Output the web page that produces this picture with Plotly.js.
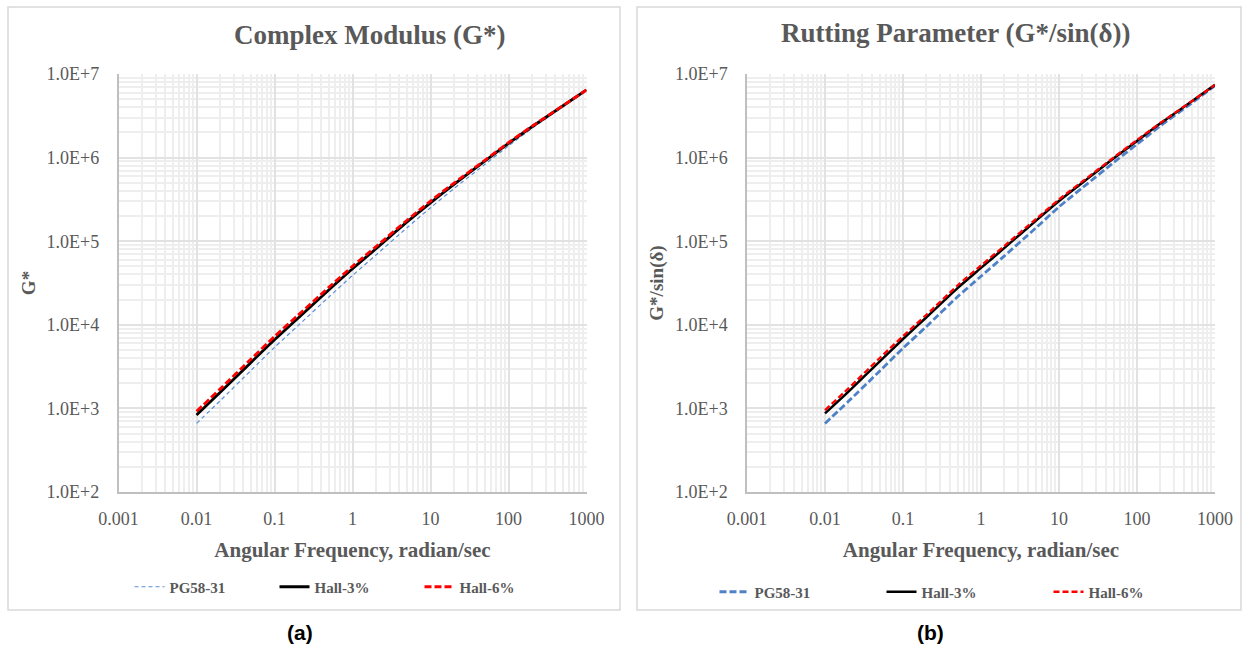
<!DOCTYPE html>
<html>
<head>
<meta charset="utf-8">
<script src="https://cdn.plot.ly/plotly-3.0.1.min.js"></script>
<style>
  html, body { margin: 0; padding: 0; background: #ffffff; }
  #chart { width: 1244px; height: 647px; }
</style>
</head>
<body>
<div id="chart"></div>
<script>
// Angular frequency, radian/sec
const frequency = [0.01, 0.02, 0.05, 0.1, 0.2, 0.5, 1, 2, 5, 10, 20, 50, 100, 200, 500, 1000];

// (a) Complex Modulus G*
const gPG5831 = [661, 1230, 2850, 5370, 9770, 21600, 38900, 68400, 145000, 251000, 427000, 832000, 1380000, 2240000, 4070000, 6460000];
const gHall3 = [832, 1550, 3550, 6610, 12000, 26300, 46800, 81300, 170000, 288000, 479000, 912000, 1480000, 2340000, 4170000, 6460000];
const gHall6 = [923, 1700, 3890, 7240, 13000, 28200, 50100, 86100, 178000, 302000, 495000, 933000, 1510000, 2370000, 4190000, 6460000];

// (b) Rutting Parameter G*/sin(δ)
const rPG5831 = [661, 1216, 2786, 5248, 9550, 21627, 38019, 66834, 142889, 257040, 436516, 870964, 1445440, 2398833, 4466836, 7244360];
const rHall3 = [871, 1585, 3631, 6761, 12300, 27500, 47900, 83200, 174000, 302000, 501000, 977000, 1580000, 2570000, 4680000, 7410000];
const rHall6 = [955, 1738, 3981, 7328, 13183, 29512, 51286, 88105, 181970, 316228, 518800, 1000000, 1621810, 2600160, 4698941, 7413102];

const seriesNames = ["PG58-31", "Hall-3%", "Hall-6%"];
const xTickVals = [0.001, 0.01, 0.1, 1, 10, 100, 1000];
const xTickText = ["0.001", "0.01", "0.1", "1", "10", "100", "1000"];
const yTickVals = [1e2, 1e3, 1e4, 1e5, 1e6, 1e7];
const yTickText = ["1.0E+2", "1.0E+3", "1.0E+4", "1.0E+5", "1.0E+6", "1.0E+7"];

const chartTitles = ["Complex Modulus (G*)", "Rutting Parameter (G*/sin(\u03b4))"];
const yTitles = ["G*", "G*/sin(\u03b4)"];
const xTitle = "Angular Frequency, radian/sec";
const captions = ["(a)", "(b)"];

const W = 1244, H = 647;
const serif = "Liberation Serif, Times New Roman, serif";
const grey = "#595959";

function mk(x, y, name, xa, ya, leg, line) {
  line.shape = "spline";
  line.smoothing = 0.7;
  return { x: x, y: y, name: name, type: "scatter", mode: "lines",
           xaxis: xa, yaxis: ya, legend: leg, line: line, showlegend: true, hoverinfo: "x+y+name" };
}

const traces = [
  mk(frequency, gPG5831, seriesNames[0], "x", "y", "legend", {color: "#5b8fd6", width: 1.2, dash: "4px,3px"}),
  mk(frequency, gHall3, seriesNames[1], "x", "y", "legend", {color: "#000000", width: 2.8}),
  mk(frequency, gHall6, seriesNames[2], "x", "y", "legend", {color: "#ff0000", width: 2.8, dash: "7px,3px"}),
  mk(frequency, rPG5831, seriesNames[0], "x2", "y2", "legend2", {color: "#4f81c7", width: 2.8, dash: "7px,3px"}),
  mk(frequency, rHall3, seriesNames[1], "x2", "y2", "legend2", {color: "#000000", width: 2.5}),
  mk(frequency, rHall6, seriesNames[2], "x2", "y2", "legend2", {color: "#ff0000", width: 2.3, dash: "6px,3px"})
];

function xAxis(dom, anchor) {
  return {
    type: "log", domain: dom, anchor: anchor,
    range: [-3, 3], tickvals: xTickVals, ticktext: xTickText,
    tickfont: {family: serif, size: 18, color: grey},
    ticklabelstandoff: 10,
    showline: true, linecolor: "#bfbfbf", linewidth: 1.5,
    showgrid: true, gridcolor: "#e2e2e2", gridwidth: 2,
    minor: {showgrid: true, gridcolor: "#eeeeee", gridwidth: 2, dtick: "D1", ticks: ""},
    zeroline: false, ticks: "",
    title: {text: xTitle, font: {family: serif, size: 21, color: grey, weight: "bold"}, standoff: 14}
  };
}
function yAxis(dom, anchor, t) {
  return {
    type: "log", domain: dom, anchor: anchor,
    range: [2, 7], tickvals: yTickVals, ticktext: yTickText,
    tickfont: {family: serif, size: 18, color: grey},
    ticklabelstandoff: 14,
    showline: true, linecolor: "#bfbfbf", linewidth: 1.5,
    showgrid: true, gridcolor: "#e2e2e2", gridwidth: 2,
    minor: {showgrid: true, gridcolor: "#eeeeee", gridwidth: 2, dtick: "D1", ticks: ""},
    zeroline: false, ticks: "",
    title: {text: t, font: {family: serif, size: 19, color: grey, weight: "bold"}, standoff: 6}
  };
}

const yDom = [1 - 492 / H, 1 - 74 / H];
const legendFont = {family: serif, size: 15, color: grey, weight: "bold"};

const layout = {
  width: W, height: H,
  margin: {l: 0, r: 0, t: 0, b: 0},
  paper_bgcolor: "#ffffff", plot_bgcolor: "#ffffff",
  showlegend: true,
  xaxis: xAxis([118.5 / W, 586.5 / W], "y"),
  yaxis: yAxis(yDom, "x", yTitles[0]),
  xaxis2: xAxis([747 / W, 1215 / W], "y2"),
  yaxis2: yAxis(yDom, "x2", yTitles[1]),
  legend: {orientation: "h", x: 347 / W, xanchor: "center", y: 1 - 587 / H, yanchor: "middle",
           font: legendFont, bgcolor: "rgba(0,0,0,0)", entrywidth: 100, entrywidthmode: "pixels", traceorder: "normal"},
  legend2: {orientation: "h", x: 965 / W, xanchor: "center", y: 1 - 592 / H, yanchor: "middle",
           font: legendFont, bgcolor: "rgba(0,0,0,0)", entrywidth: 122, entrywidthmode: "pixels", traceorder: "normal"},
  annotations: [
    {text: chartTitles[0], xref: "paper", yref: "paper", x: 370 / W, y: 1 - 35 / H, showarrow: false,
     xanchor: "center", yanchor: "middle", font: {family: serif, size: 27, color: grey, weight: "bold"}},
    {text: chartTitles[1], xref: "paper", yref: "paper", x: 955 / W, y: 1 - 33 / H, showarrow: false,
     xanchor: "center", yanchor: "middle", font: {family: serif, size: 27, color: grey, weight: "bold"}},
    {text: captions[0], xref: "paper", yref: "paper", x: 300 / W, y: 1 - 632 / H, showarrow: false,
     xanchor: "center", yanchor: "middle", font: {family: "Liberation Sans, Arial, sans-serif", size: 21, color: "#000000", weight: "bold"}},
    {text: captions[1], xref: "paper", yref: "paper", x: 930 / W, y: 1 - 632 / H, showarrow: false,
     xanchor: "center", yanchor: "middle", font: {family: "Liberation Sans, Arial, sans-serif", size: 21, color: "#000000", weight: "bold"}}
  ],
  shapes: [
    {type: "rect", xref: "paper", yref: "paper", x0: 8 / W, x1: 620 / W, y0: 1 - 610 / H, y1: 1 - 7 / H,
     line: {color: "#d9d9d9", width: 1.5}, fillcolor: "rgba(0,0,0,0)", layer: "below"},
    {type: "rect", xref: "paper", yref: "paper", x0: 637 / W, x1: 1241 / W, y0: 1 - 610 / H, y1: 1 - 7 / H,
     line: {color: "#d9d9d9", width: 1.5}, fillcolor: "rgba(0,0,0,0)", layer: "below"}
  ]
};

Plotly.newPlot("chart", traces, layout, {displayModeBar: false, responsive: false});
</script>
</body>
</html>
